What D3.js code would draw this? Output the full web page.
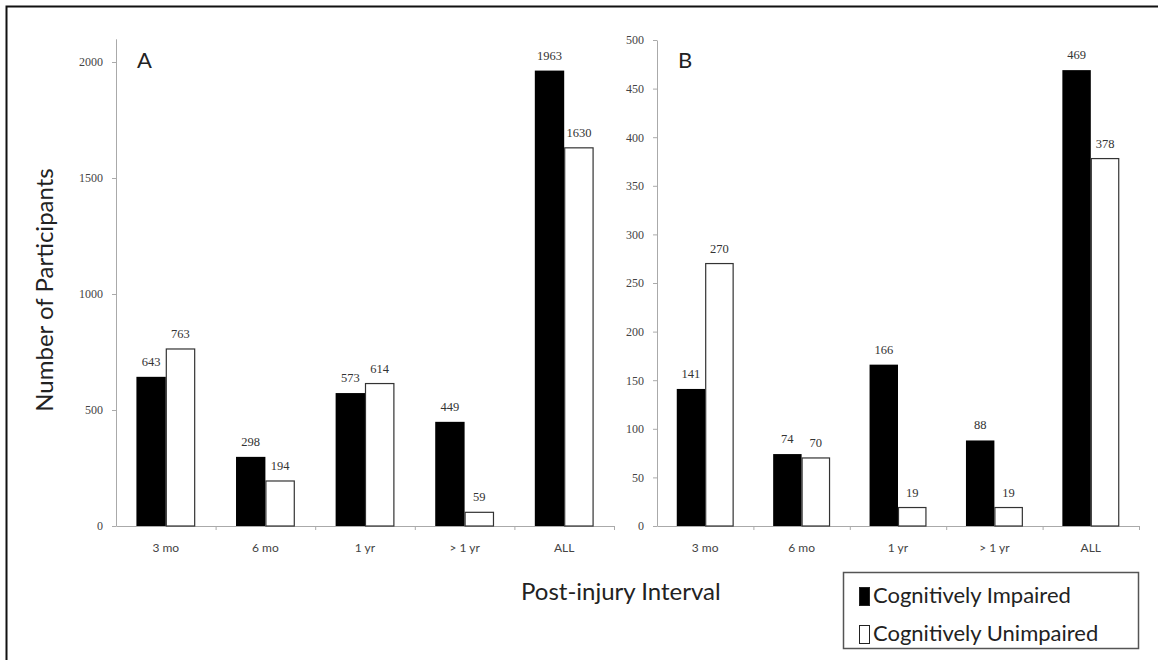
<!DOCTYPE html>
<html>
<head>
<meta charset="utf-8">
<script src="https://cdn.jsdelivr.net/npm/d3@7"></script>
<style>
  body { margin: 0; background: #fff; }
</style>
</head>
<body>
<div id="chart"></div>
<script>
var categories = ["3 mo", "6 mo", "1 yr", "> 1 yr", "ALL"];
var seriesNames = ["Cognitively Impaired", "Cognitively Unimpaired"];

var impairedA = [643, 298, 573, 449, 1963];
var unimpairedA = [763, 194, 614, 59, 1630];
var ticksA = [0, 500, 1000, 1500, 2000];

var impairedB = [141, 74, 166, 88, 469];
var unimpairedB = [270, 70, 19, 19, 378];
var ticksB = [0, 50, 100, 150, 200, 250, 300, 350, 400, 450, 500];

var width = 1158, height = 660;

var svg = d3.select("#chart")
    .append("svg")
    .attr("width", width)
    .attr("height", height);

// outer frame (only top and left edges visible)
svg.append("path")
    .attr("d", "M6.5," + height + "V6.5H" + width)
    .attr("fill", "none")
    .attr("stroke", "#111")
    .attr("stroke-width", 2);

function drawPanel(opts) {
    var rows = categories.map(function(c, i) {
        return {cat: c, values: [opts.impaired[i], opts.unimpaired[i]]};
    });

    var xScale = d3.scaleBand()
        .domain(categories)
        .range([opts.left, opts.right]);

    var bw = xScale.bandwidth();
    var xSub = d3.scaleBand()
        .domain([0, 1])
        .range([bw / 2 - bw * 0.295, bw / 2 + bw * 0.295]);

    var yScale = d3.scaleLinear()
        .domain([0, opts.max])
        .range([526, opts.top]);

    // y axis
    var yAxis = svg.append("g")
        .attr("transform", "translate(" + opts.left + ",0)")
        .call(d3.axisLeft(yScale).tickValues(opts.ticks).tickFormat(d3.format("d"))
            .tickSize(4).tickPadding(9).tickSizeOuter(0));
    yAxis.select(".domain").attr("stroke", "#aaa");
    yAxis.selectAll(".tick line").attr("stroke", "#aaa");
    yAxis.selectAll(".tick text")
        .attr("font-family", "Liberation Serif")
        .attr("font-size", 12)
        .attr("fill", "#444");

    // x axis boundaries ticks
    var xLin = d3.scaleLinear().domain([0, categories.length]).range([opts.left, opts.right]);
    var xAxis = svg.append("g")
        .attr("transform", "translate(0,526)")
        .call(d3.axisBottom(xLin).tickValues(d3.range(1, categories.length + 1))
            .tickSize(4).tickFormat("").tickSizeOuter(0));
    xAxis.select(".domain").attr("stroke", "#aaa");
    xAxis.selectAll(".tick line").attr("stroke", "#aaa");

    // category labels
    var xLabels = svg.append("g")
        .attr("transform", "translate(0,526)")
        .call(d3.axisBottom(xScale).tickSize(0).tickPadding(17));
    xLabels.select(".domain").remove();
    xLabels.selectAll(".tick text")
        .attr("font-family", "Lato")
        .attr("font-size", 12)
        .attr("fill", "#444");

    var groups = svg.selectAll(".grp" + opts.name)
        .data(rows)
        .enter()
        .append("g")
            .attr("transform", function(d) { return "translate(" + xScale(d.cat) + ",0)"; });

    groups.selectAll("rect")
        .data(function(d) { return d.values; })
        .enter()
        .append("rect")
            .attr("x", function(d, i) { return xSub(i) + (i === 1 ? 0.5 : 0); })
            .attr("y", function(d) { return yScale(d); })
            .attr("width", function(d, i) { return xSub.bandwidth() - (i === 1 ? 1 : 0); })
            .attr("height", function(d) { return 526 - yScale(d); })
            .attr("fill", function(d, i) { return i === 0 ? "#000" : "#fff"; })
            .attr("stroke", function(d, i) { return i === 0 ? "none" : "#333"; })
            .attr("stroke-width", 1.2);

    groups.selectAll("text")
        .data(function(d) { return d.values; })
        .enter()
        .append("text")
            .attr("x", function(d, i) { return xSub(i) + xSub.bandwidth() / 2; })
            .attr("y", function(d) { return yScale(d) - 11; })
            .attr("text-anchor", "middle")
            .attr("font-family", "Liberation Serif")
            .attr("font-size", 12.5)
            .attr("fill", "#333")
            .text(function(d) { return d; });

    svg.append("text")
        .attr("x", opts.left + 21)
        .attr("y", 68)
        .attr("font-family", "Lato")
        .attr("font-size", 22)
        .attr("fill", "#222")
        .text(opts.name);
}

drawPanel({name: "A", impaired: impairedA, unimpaired: unimpairedA, ticks: ticksA,
    max: 2100, top: 38.8, left: 116, right: 614});
drawPanel({name: "B", impaired: impairedB, unimpaired: unimpairedB, ticks: ticksB,
    max: 500, top: 40, left: 657, right: 1139});

// axis titles
svg.append("text")
    .attr("transform", "rotate(-90)")
    .attr("x", -290)
    .attr("y", 53)
    .attr("text-anchor", "middle")
    .attr("font-family", "Lato")
    .attr("font-size", 24)
    .attr("fill", "#222")
    .text("Number of Participants");

svg.append("text")
    .attr("x", 521)
    .attr("y", 600)
    .attr("font-family", "Lato")
    .attr("font-size", 24)
    .attr("fill", "#222")
    .text("Post-injury Interval");

// legend
var legend = svg.append("g");
legend.append("rect")
    .attr("x", 843.5)
    .attr("y", 572.5)
    .attr("width", 295)
    .attr("height", 76)
    .attr("fill", "#fff")
    .attr("stroke", "#555")
    .attr("stroke-width", 1.5);

var items = legend.selectAll(".item")
    .data(seriesNames)
    .enter()
    .append("g")
        .attr("transform", function(d, i) { return "translate(859," + (587 + i * 38) + ")"; });

items.append("rect")
    .attr("x", 0.5)
    .attr("y", 0.5)
    .attr("width", 10)
    .attr("height", 18)
    .attr("fill", function(d, i) { return i === 0 ? "#000" : "#fff"; })
    .attr("stroke", "#222")
    .attr("stroke-width", 1);

items.append("text")
    .attr("x", 14)
    .attr("y", 16)
    .attr("font-family", "Lato")
    .attr("font-size", 22)
    .attr("fill", "#222")
    .text(function(d) { return d; });
</script>
</body>
</html>
